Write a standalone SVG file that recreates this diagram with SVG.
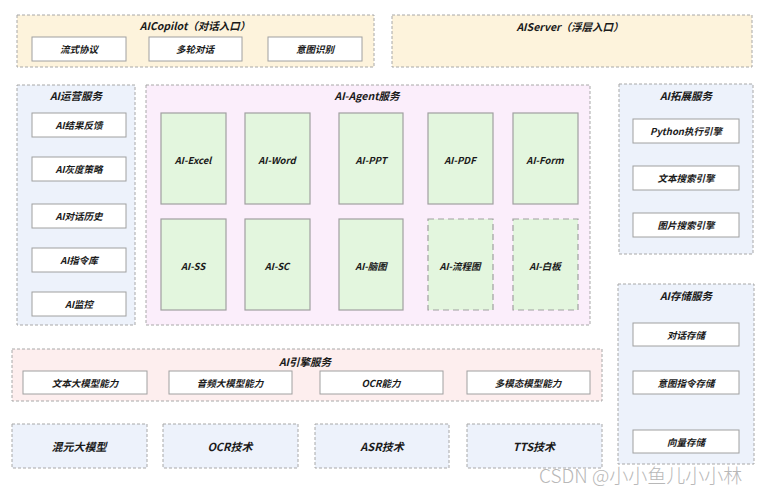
<svg xmlns="http://www.w3.org/2000/svg" width="766" height="487" viewBox="0 0 766 487">
<style>
  .grp { stroke: #a8a8a8; stroke-width: 1; stroke-dasharray: 3 2; }
  .cream { fill: #fdf3dc; }
  .blue { fill: #edf2fb; }
  .lav { fill: #fbeefb; }
  .pink { fill: #fdeeee; }
  .box { fill: #ffffff; stroke: #a0a0a0; stroke-width: 1; }
  .cell { fill: #e3f6de; stroke: #a0a0a0; stroke-width: 1.2; }
  .cellD { fill: #e3f6de; stroke: #a0a0a0; stroke-width: 1.2; stroke-dasharray: 6 4; }
  text { font-family: "Noto Sans CJK SC", "Noto Sans", sans-serif; font-weight: bold; font-style: italic; fill: #1a1a1a; text-anchor: middle; dominant-baseline: central; }
  .t { font-size: 10.5px; }
  .l { font-size: 9.5px; }
  .big { font-size: 11px; }
  .wm { font-family: "Noto Sans CJK SC", "Noto Sans", sans-serif; font-weight: 300; font-style: normal; font-size: 19px; fill: #b8b8b8; text-anchor: start; }
</style>
<rect width="766" height="487" fill="#ffffff"/>

<g id="copilot">
  <rect class="grp cream" x="17" y="15" width="357" height="52"/>
  <text class="t" x="195" y="25">AICopilot（对话入口）</text>
  <rect class="box" x="32" y="37" width="94" height="24"/>
  <text class="l" x="79" y="49">流式协议</text>
  <rect class="box" x="149" y="37" width="93" height="24"/>
  <text class="l" x="195" y="49">多轮对话</text>
  <rect class="box" x="268" y="37" width="94" height="24"/>
  <text class="l" x="315" y="49">意图识别</text>
</g>

<g id="aiserver">
  <rect class="grp cream" x="392" y="15" width="360" height="52"/>
  <text class="t" x="570" y="26">AIServer（浮层入口）</text>
</g>

<g id="ops">
  <rect class="grp blue" x="17" y="85" width="118" height="240"/>
  <text class="t" x="76" y="95">AI运营服务</text>
  <rect class="box" x="32" y="113" width="94" height="24"/>
  <text class="l" x="79" y="125">AI结果反馈</text>
  <rect class="box" x="32" y="157" width="94" height="24"/>
  <text class="l" x="79" y="169">AI灰度策略</text>
  <rect class="box" x="32" y="204" width="94" height="24"/>
  <text class="l" x="79" y="216">AI对话历史</text>
  <rect class="box" x="32" y="248" width="94" height="24"/>
  <text class="l" x="79" y="260">AI指令库</text>
  <rect class="box" x="32" y="292" width="94" height="24"/>
  <text class="l" x="79" y="304">AI监控</text>
</g>

<g id="agent">
  <rect class="grp lav" x="146" y="85" width="444" height="240"/>
  <text class="t" x="367" y="95">AI-Agent服务</text>
  <rect class="cell" x="161" y="113" width="65" height="91"/>
  <text class="l" x="193" y="160">AI-Excel</text>
  <rect class="cell" x="245" y="113" width="65" height="91"/>
  <text class="l" x="277" y="160">AI-Word</text>
  <rect class="cell" x="339" y="113" width="64" height="91"/>
  <text class="l" x="371" y="160">AI-PPT</text>
  <rect class="cell" x="428" y="113" width="65" height="91"/>
  <text class="l" x="460" y="160">AI-PDF</text>
  <rect class="cell" x="513" y="113" width="65" height="91"/>
  <text class="l" x="545" y="160">AI-Form</text>
  <rect class="cell" x="161" y="219" width="65" height="91"/>
  <text class="l" x="193" y="266">AI-SS</text>
  <rect class="cell" x="245" y="219" width="65" height="91"/>
  <text class="l" x="277" y="266">AI-SC</text>
  <rect class="cell" x="339" y="219" width="64" height="91"/>
  <text class="l" x="371" y="266">AI-脑图</text>
  <rect class="cellD" x="428" y="219" width="65" height="91"/>
  <text class="l" x="460" y="266">AI-流程图</text>
  <rect class="cellD" x="513" y="219" width="65" height="91"/>
  <text class="l" x="545" y="266">AI-白板</text>
</g>

<g id="ext">
  <rect class="grp blue" x="619" y="84" width="134" height="170"/>
  <text class="t" x="686" y="95">AI拓展服务</text>
  <rect class="box" x="633" y="119" width="106" height="24"/>
  <text class="l" x="686" y="131">Python执行引擎</text>
  <rect class="box" x="633" y="166" width="106" height="24"/>
  <text class="l" x="686" y="178">文本搜索引擎</text>
  <rect class="box" x="633" y="213" width="106" height="24"/>
  <text class="l" x="686" y="225">图片搜索引擎</text>
</g>

<g id="storage">
  <rect class="grp blue" x="618" y="284" width="136" height="180"/>
  <text class="t" x="686" y="295">AI存储服务</text>
  <rect class="box" x="633" y="323" width="106" height="23"/>
  <text class="l" x="686" y="334.5">对话存储</text>
  <rect class="box" x="633" y="371" width="106" height="23"/>
  <text class="l" x="686" y="382.5">意图指令存储</text>
  <rect class="box" x="633" y="430" width="106" height="23"/>
  <text class="l" x="686" y="441.5">向量存储</text>
</g>

<g id="engine">
  <rect class="grp pink" x="12" y="349" width="590" height="52"/>
  <text class="t" x="305" y="361">AI引擎服务</text>
  <rect class="box" x="23" y="371" width="124" height="23"/>
  <text class="l" x="85" y="382.5">文本大模型能力</text>
  <rect class="box" x="169" y="371" width="123" height="23"/>
  <text class="l" x="230" y="382.5">音频大模型能力</text>
  <rect class="box" x="320" y="371" width="123" height="23"/>
  <text class="l" x="381" y="382.5">OCR能力</text>
  <rect class="box" x="467" y="371" width="123" height="23"/>
  <text class="l" x="528" y="382.5">多模态模型能力</text>
</g>

<g id="hunyuan">
  <rect class="grp blue" x="12" y="424" width="135" height="44"/>
  <text class="big" x="79" y="446">混元大模型</text>
</g>
<g id="ocr">
  <rect class="grp blue" x="163" y="424" width="135" height="44"/>
  <text class="big" x="230" y="446">OCR技术</text>
</g>
<g id="asr">
  <rect class="grp blue" x="315" y="424" width="134" height="44"/>
  <text class="big" x="382" y="446">ASR技术</text>
</g>
<g id="tts">
  <rect class="grp blue" x="467" y="424" width="135" height="44"/>
  <text class="big" x="534" y="446">TTS技术</text>
</g>

<g id="connectors"></g>

<text class="wm" x="539" y="474">CSDN @小小鱼儿小小林</text>
</svg>
